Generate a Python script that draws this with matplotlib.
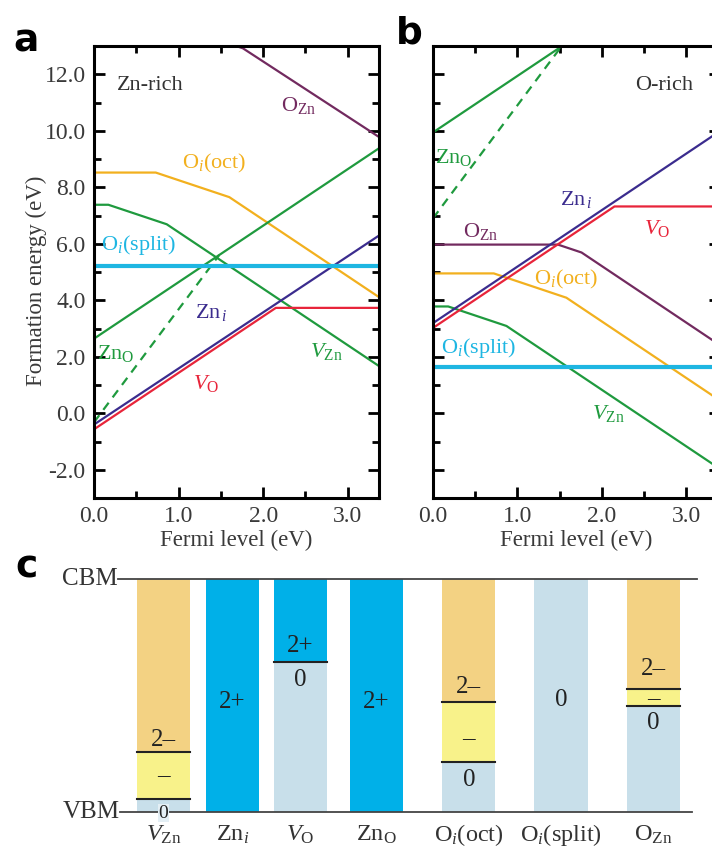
import numpy as np
import matplotlib.pyplot as plt

plt.rcParams['font.family'] = ['Liberation Serif', 'DejaVu Serif']
plt.rcParams['mathtext.fontset'] = 'custom'
plt.rcParams['mathtext.rm'] = 'Liberation Serif'
plt.rcParams['mathtext.it'] = 'Liberation Serif:italic'

# ---- formation energy data (vertices of each line, eV) ----
# Zn-rich (panel a)
a_OZn_x, a_OZn_y = [0, 1.48, 1.76, 3.4], [13.2, 13.2, 12.92, 9.72]
a_Oioct_x, a_Oioct_y = [0, 0.73, 1.60, 3.4], [8.52, 8.52, 7.65, 4.05]
a_Oisplit_x, a_Oisplit_y = [0, 3.4], [5.22, 5.22]
a_VZn_x, a_VZn_y = [0, 0.17, 0.86, 3.4], [7.38, 7.38, 6.69, 1.61]
a_ZnO_x, a_ZnO_y = [0, 3.4], [2.64, 9.44]
a_ZnO4_x, a_ZnO4_y = [0, 1.48], [-0.32, 5.60]
a_Zni_x, a_Zni_y = [0, 3.4], [-0.40, 6.35]
a_VO_x, a_VO_y = [0, 2.15, 3.4], [-0.57, 3.73, 3.73]

# O-rich (panel b)
b_OZn_x, b_OZn_y = [0, 1.48, 1.76, 3.4], [5.97, 5.97, 5.69, 2.41]
b_Oioct_x, b_Oioct_y = [0, 0.72, 1.58, 3.4], [4.95, 4.95, 4.09, 0.45]
b_Oisplit_x, b_Oisplit_y = [0, 3.4], [1.63, 1.63]
b_VZn_x, b_VZn_y = [0, 0.18, 0.87, 3.4], [3.78, 3.78, 3.09, -1.97]
b_ZnO_x, b_ZnO_y = [0, 3.4], [9.94, 16.74]
b_ZnO4_x, b_ZnO4_y = [0, 1.52], [6.90, 12.98]
b_Zni_x, b_Zni_y = [0, 3.4], [3.19, 9.99]
b_VO_x, b_VO_y = [0, 2.15, 3.4], [3.02, 7.32, 7.32]

# ---- charge transition data (panel c), eV above VBM ----
gap = 3.4
defects = ['$V_{\\mathrm{Zn}}$', 'Zn$_i$', '$V_{\\mathrm{O}}$', 'Zn$_{\\mathrm{O}}$',
           'O$_i$(oct)', 'O$_i$(split)', 'O$_{\\mathrm{Zn}}$']
# each defect: list of (bottom, top, charge) segments
segments = [
    [(0, 0.18, '0'), (0.18, 0.88, '-'), (0.88, gap, '2-')],
    [(0, gap, '2+')],
    [(0, 2.19, '0'), (2.19, gap, '2+')],
    [(0, gap, '2+')],
    [(0, 0.73, '0'), (0.73, 1.61, '-'), (1.61, gap, '2-')],
    [(0, gap, '0')],
    [(0, 1.54, '0'), (1.54, 1.80, '-'), (1.80, gap, '2-')],
]

# colours
c_OZn = '#722a5f'
c_Oioct = '#f2b01e'
c_Oisplit = '#1eb6e2'
c_green = '#1f9a3e'
c_Zni = '#3b2c8e'
c_VO = '#e8243a'
tick_col = '#3a3a3a'
charge_col = {'0': '#c8dfea', '-': '#f8f28a', '2-': '#f3d283', '2+': '#00b0e8'}
charge_txt = {'0': '0', '-': '\u2013', '2-': '2\u2013', '2+': '2+'}

fig = plt.figure(figsize=(7.12, 8.5), dpi=100)
ax_a = fig.add_axes([94 / 712, 1 - 498 / 850, 285 / 712, 452 / 850])
ax_b = fig.add_axes([433 / 712, 1 - 498 / 850, 287 / 712, 452 / 850])


def draw_lines(ax, d):
    ax.plot(d['OZn'][0], d['OZn'][1], color=c_OZn, lw=1.6)
    ax.plot(d['Oioct'][0], d['Oioct'][1], color=c_Oioct, lw=1.6)
    ax.plot(d['VZn'][0], d['VZn'][1], color=c_green, lw=1.6)
    ax.plot(d['ZnO'][0], d['ZnO'][1], color=c_green, lw=1.6)
    ax.plot(d['ZnO4'][0], d['ZnO4'][1], color=c_green, lw=1.6, ls=(0, (4, 3)))
    ax.plot(d['VO'][0], d['VO'][1], color=c_VO, lw=1.6)
    ax.plot(d['Zni'][0], d['Zni'][1], color=c_Zni, lw=1.6)
    ax.plot(d['Oisplit'][0], d['Oisplit'][1], color=c_Oisplit, lw=3)


def style_axes(ax, xmax, show_ylabels):
    ax.set_xlim(0, xmax)
    ax.set_ylim(-3, 13)
    ax.set_xticks([0, 1, 2, 3])
    ax.set_xticks([0.5, 1.5, 2.5], minor=True)
    ax.set_xticklabels(['0.0', '1.0', '2.0', '3.0'])
    ax.set_yticks([-2, 0, 2, 4, 6, 8, 10, 12])
    ax.set_yticks([-3, -1, 1, 3, 5, 7, 9, 11], minor=True)
    if show_ylabels:
        ax.set_yticklabels(['-2.0', '0.0', '2.0', '4.0', '6.0', '8.0', '10.0', '12.0'])
        ax.set_ylabel('Formation energy (eV)', fontsize=16.5, color=tick_col,
                      labelpad=-2, y=0.48)
    else:
        ax.set_yticklabels([])
    ax.set_xlabel('Fermi level (eV)', fontsize=16.5, color=tick_col, labelpad=2)
    ax.tick_params(which='both', direction='in', top=True, right=True,
                   width=2, labelsize=17, labelcolor=tick_col, pad=6)
    ax.tick_params(which='major', length=8)
    ax.tick_params(which='minor', length=5)
    for s in ax.spines.values():
        s.set_linewidth(2.2)


dat_a = {'OZn': (a_OZn_x, a_OZn_y), 'Oioct': (a_Oioct_x, a_Oioct_y),
         'Oisplit': (a_Oisplit_x, a_Oisplit_y), 'VZn': (a_VZn_x, a_VZn_y),
         'ZnO': (a_ZnO_x, a_ZnO_y), 'ZnO4': (a_ZnO4_x, a_ZnO4_y),
         'Zni': (a_Zni_x, a_Zni_y), 'VO': (a_VO_x, a_VO_y)}
dat_b = {'OZn': (b_OZn_x, b_OZn_y), 'Oioct': (b_Oioct_x, b_Oioct_y),
         'Oisplit': (b_Oisplit_x, b_Oisplit_y), 'VZn': (b_VZn_x, b_VZn_y),
         'ZnO': (b_ZnO_x, b_ZnO_y), 'ZnO4': (b_ZnO4_x, b_ZnO4_y),
         'Zni': (b_Zni_x, b_Zni_y), 'VO': (b_VO_x, b_VO_y)}

draw_lines(ax_a, dat_a)
draw_lines(ax_b, dat_b)
style_axes(ax_a, 3.37, True)
style_axes(ax_b, 3.4, False)

# panel a labels
fs = 16
ax_a.text(0.27, 11.6, 'Zn-rich', fontsize=fs, color='#333333', va='center')
ax_a.text(2.21, 10.9, 'O$_{\\mathrm{Zn}}$', fontsize=fs, color=c_OZn, va='center')
ax_a.text(1.04, 8.85, 'O$_i$(oct)', fontsize=fs, color=c_Oioct, va='center')
ax_a.text(0.08, 5.95, 'O$_i$(split)', fontsize=fs, color=c_Oisplit, va='center')
ax_a.text(0.04, 2.1, 'Zn$_{\\mathrm{O}}$', fontsize=fs, color=c_green, va='center')
ax_a.text(1.2, 3.55, 'Zn$_{\\,i}$', fontsize=fs, color=c_Zni, va='center')
ax_a.text(1.17, 1.05, '$V_{\\mathrm{O}}$', fontsize=fs, color=c_VO, va='center')
ax_a.text(2.55, 2.2, '$V_{\\mathrm{Zn}}$', fontsize=fs, color=c_green, va='center')

# panel b labels
ax_b.text(2.4, 11.6, 'O-rich', fontsize=fs, color='#333333', va='center')
ax_b.text(0.02, 9.05, 'Zn$_{\\mathrm{O}}$', fontsize=fs, color=c_green, va='center')
ax_b.text(1.5, 7.55, 'Zn$_{\\,i}$', fontsize=fs, color=c_Zni, va='center')
ax_b.text(0.36, 6.45, 'O$_{\\mathrm{Zn}}$', fontsize=fs, color=c_OZn, va='center')
ax_b.text(2.5, 6.55, '$V_{\\mathrm{O}}$', fontsize=fs, color=c_VO, va='center')
ax_b.text(1.2, 4.75, 'O$_i$(oct)', fontsize=fs, color=c_Oioct, va='center')
ax_b.text(0.1, 2.3, 'O$_i$(split)', fontsize=fs, color=c_Oisplit, va='center')
ax_b.text(1.88, 0.0, '$V_{\\mathrm{Zn}}$', fontsize=fs, color=c_green, va='center')

# ---- panel c ----
ax_c = fig.add_axes([0, 1 - 811.7 / 850, 1, 232.4 / 850])
ax_c.set_xlim(-163.5 / 71, (712 - 163.5) / 71)
ax_c.set_ylim(0, gap)
ax_c.axis('off')
xpos = [0, 0.97, 1.93, 3.0, 4.3, 5.6, 6.9]
bw = 0.75

for i, segs in enumerate(segments):
    x0 = xpos[i]
    for k, (lo, hi, q) in enumerate(segs):
        ax_c.bar(x0, hi - lo, bottom=lo, width=bw, color=charge_col[q], edgecolor='none', zorder=1)
        if k > 0:
            ax_c.plot([x0 - bw / 2, x0 + bw / 2], [lo, lo], color='#222222', lw=1.5, zorder=3)

ax_c.plot([-0.64, 7.52], [gap, gap], color='#444444', lw=1.3, zorder=2, clip_on=False)
ax_c.plot([-0.61, 7.44], [0, 0], color='#444444', lw=1.3, zorder=2, clip_on=False)
ax_c.text(-0.64, gap, 'CBM', fontsize=18, color='#333333', ha='right', va='center')
ax_c.text(-0.61, 0, 'VBM', fontsize=18, color='#333333', ha='right', va='center')

# charge state labels (position: y in eV)
lab_pos = [
    [(-0.02, '0'), (0.53, '-'), (1.05, '2-')],
    [(1.6, '2+')],
    [(1.93, '0'), (2.42, '2+')],
    [(1.6, '2+')],
    [(0.46, '0'), (1.08, '-'), (1.82, '2-')],
    [(1.63, '0')],
    [(1.30, '0'), (1.66, '-'), (2.09, '2-')],
]
for i, labs in enumerate(lab_pos):
    for y, q in labs:
        kw = {}
        size = 18
        if i == 0 and q == '0':
            kw['bbox'] = dict(facecolor='#e4eff5', edgecolor='none', pad=0.5)
            size = 14
        ax_c.text(xpos[i], y, charge_txt[q], fontsize=size,
                  color='#222222', ha='center', va='center', zorder=4, **kw)

for i, name in enumerate(defects):
    ax_c.text(xpos[i], -0.34, name, fontsize=17.5, color='#333333', ha='center', va='center',
              clip_on=False)

# panel letters
fig.text(13 / 712, 1 - 52 / 850, 'a', fontsize=27, fontweight='bold', family='DejaVu Sans')
fig.text(396 / 712, 1 - 44 / 850, 'b', fontsize=27, fontweight='bold', family='DejaVu Sans')
fig.text(15 / 712, 1 - 577 / 850, 'c', fontsize=27, fontweight='bold', family='DejaVu Sans')

fig.savefig('out.png', dpi=100)
